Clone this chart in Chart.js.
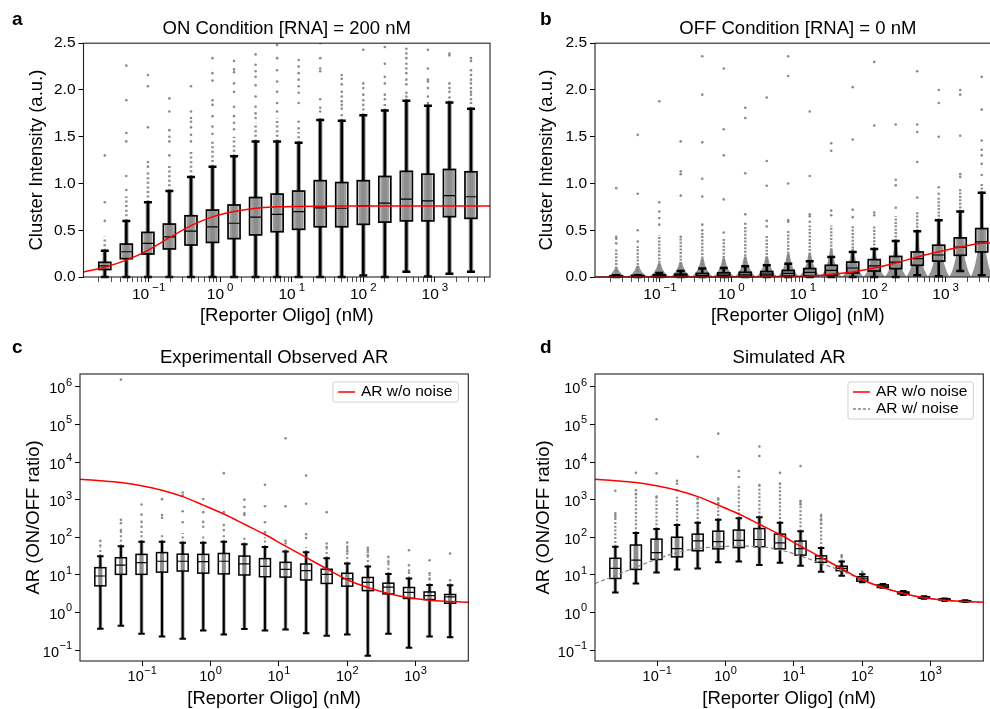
<!DOCTYPE html>
<html>
<head>
<meta charset="utf-8">
<script src="https://cdn.jsdelivr.net/npm/chart.js@4.4.1/dist/chart.umd.min.js"></script>
<style>
  html, body { margin: 0; padding: 0; background: #fff; }
  body { width: 990px; height: 709px; overflow: hidden; position: relative; }
  canvas { position: absolute; }
</style>
</head>
<body>
<canvas id="pa" width="495" height="330" style="left:0;top:0"></canvas>
<canvas id="pb" width="510" height="330" style="left:495px;top:0"></canvas>
<canvas id="pc" width="495" height="381" style="left:0;top:330px"></canvas>
<canvas id="pd" width="495" height="381" style="left:495px;top:330px"></canvas>
<script>
const FONT = '"Liberation Sans", Arial, Helvetica, sans-serif';
Chart.defaults.font.family = FONT;
Chart.defaults.color = '#000';

// reporter oligo concentrations (nM), twofold dilution series
const conc = [0.0244, 0.0488, 0.0977, 0.195, 0.391, 0.781, 1.5625, 3.125, 6.25, 12.5, 25, 50, 100, 200, 400, 800, 1600, 3200];
// x positions where the fitted curves were read
const fitX = [0.0123, 0.0244, 0.0488, 0.0977, 0.195, 0.391, 0.781, 1.5625, 3.125, 6.25, 12.5, 25, 50, 100, 200, 400, 800, 1600, 3200, 5900];

// a: ON condition
const aQ1 = [0.08, 0.196, 0.246, 0.30, 0.342, 0.37, 0.41, 0.45, 0.484, 0.51, 0.537, 0.537, 0.563, 0.587, 0.60, 0.60, 0.645, 0.627];
const aMed = [0.12, 0.27, 0.36, 0.43, 0.49, 0.535, 0.575, 0.64, 0.67, 0.70, 0.74, 0.735, 0.76, 0.79, 0.833, 0.815, 0.87, 0.858];
const aQ3 = [0.157, 0.352, 0.477, 0.566, 0.655, 0.716, 0.77, 0.85, 0.887, 0.919, 1.03, 1.01, 1.03, 1.075, 1.13, 1.10, 1.15, 1.125];
const aLo = [0, 0, 0, 0, 0, 0, 0, 0, 0, 0, 0, 0, 0.015, 0, 0.055, 0.005, 0.035, 0.055];
const aHi = [0.28, 0.6, 0.8, 0.92, 1.07, 1.18, 1.29, 1.45, 1.45, 1.435, 1.68, 1.67, 1.73, 1.78, 1.885, 1.83, 1.865, 1.80];
const aCloud = [0.43, 0.86, 1.12, 1.2, 1.36, 1.46, 1.5, 1.65, 1.7, 1.55, 1.72, 1.75, 1.82, 1.85, 1.92, 1.85, 1.9, 1.88];
const aOut = [
  [1.3, 0.8, 0.6],
  [2.26, 1.89, 1.54, 1.45, 1.08, 0.93],
  [2.16, 2.04, 1.6, 1.23, 1.18],
  [1.91, 1.77, 1.57, 1.5, 1.45, 1.3],
  [2.04, 1.77, 1.7, 1.66, 1.6, 1.52, 1.45],
  [2.34, 2.18, 2.1, 1.89, 1.84, 1.72, 1.61, 1.53],
  [2.31, 2.22, 2.19, 2.07, 1.98, 1.82, 1.72, 1.65, 1.58],
  [2.38, 2.27, 2.2, 2.14, 2.05, 1.93, 1.82, 1.75, 1.7],
  [2.48, 2.34, 2.21, 2.09, 1.98, 1.86, 1.77],
  [2.32, 2.25, 2.18, 2.11, 2.04, 1.97, 1.86, 1.66, 1.59],
  [2.5, 2.34, 2.23, 2.2, 1.9, 1.81, 1.77],
  [2.16, 2.12, 2.06, 1.98, 1.93, 1.88, 1.84, 1.8],
  [2.43, 2.07, 2.02, 1.95, 1.89, 1.84],
  [2.46, 2.28, 2.14, 2.07, 1.95, 1.9],
  [2.44, 2.39, 2.34, 2.28, 2.23, 2.18, 2.11, 2.06, 1.97, 1.93],
  [2.43, 2.23, 2.11, 2.09, 2.02, 1.93, 1.86],
  [2.39, 2.37, 2.07, 2.02, 1.98, 1.92],
  [2.34, 2.31, 2.21, 2.16, 2.11, 2.07, 2.02, 1.98, 1.95, 1.9]
];
const onFit = [0.054, 0.105, 0.18, 0.285, 0.42, 0.55, 0.643, 0.70, 0.736, 0.75, 0.755, 0.757, 0.758, 0.758, 0.758, 0.758, 0.758, 0.758, 0.758, 0.758];

// b: OFF condition
const bQ1 = [0, 0, 0.001, 0.002, 0.004, 0.005, 0.006, 0.008, 0.01, 0.013, 0.02, 0.043, 0.064, 0.089, 0.125, 0.17, 0.232, 0.268];
const bMed = [0.004, 0.006, 0.009, 0.012, 0.016, 0.02, 0.024, 0.03, 0.038, 0.05, 0.07, 0.096, 0.118, 0.16, 0.196, 0.235, 0.32, 0.375];
const bQ3 = [0.012, 0.015, 0.022, 0.03, 0.038, 0.045, 0.05, 0.058, 0.07, 0.09, 0.125, 0.16, 0.186, 0.22, 0.268, 0.34, 0.418, 0.518];
const bLo = [0, 0, 0, 0, 0, 0, 0, 0, 0, 0, 0, 0, 0, 0, 0.02, 0.007, 0.064, 0.018];
const bHi = [0.018, 0.02, 0.043, 0.064, 0.09, 0.095, 0.114, 0.125, 0.143, 0.168, 0.214, 0.268, 0.30, 0.386, 0.49, 0.607, 0.70, 0.90];
const bCloud = [0.3, 0.33, 0.45, 0.43, 0.45, 0.42, 0.55, 0.45, 0.5, 0.55, 0.55, 0.55, 0.55, 0.65, 0.7, 0.85, 0.95, 1.0];
const bBell = [0.1, 0.12, 0.15, 0.16, 0.2, 0.2, 0.22, 0.22, 0.25, 0.25, 0.3, 0.3, 0.3, 0.35, 0.4, 0.45, 0.5, 0.6];
const bOut = [
  [0.95, 0.43, 0.41, 0.36],
  [1.52, 0.89, 0.5, 0.38],
  [1.88, 0.8, 0.7, 0.63, 0.56],
  [1.45, 1.13, 1.1, 0.87, 0.43],
  [2.36, 1.95, 1.44, 1.05, 0.86, 0.56, 0.5, 0.46],
  [2.23, 1.58, 1.3, 0.83, 0.475],
  [1.81, 1.7, 1.11, 0.67, 0.57],
  [1.92, 1.24, 0.975, 0.6, 0.54],
  [2.36, 2.15, 1.0, 0.61, 0.59],
  [1.77, 1.08, 0.67, 0.65, 0.59],
  [1.43, 1.35, 0.71, 0.66],
  [2.03, 1.47, 0.72, 0.64],
  [2.3, 1.62, 0.69, 0.66],
  [1.63, 1.04, 0.98, 0.74],
  [2.2, 1.63, 1.55, 1.23, 0.85],
  [2.0, 1.86, 1.5, 0.96, 0.89],
  [2.0, 1.95, 1.51, 1.1, 1.07],
  [2.14, 1.79, 1.46, 1.36, 1.3, 1.21, 1.09]
];
const offFit = [0, 0, 0, 0, 0, 0, 0, 0.001, 0.002, 0.005, 0.01, 0.03, 0.054, 0.096, 0.15, 0.214, 0.27, 0.32, 0.36, 0.368];

// c: experimentally observed AR
const cQ1 = [5.1, 10.3, 10.3, 11.8, 12.6, 11.1, 10.6, 9.9, 8.9, 8.7, 7.3, 5.9, 5.0, 3.8, 3.1, 2.35, 2.2, 1.76];
const cMed = [9.3, 18.2, 21, 23, 23, 22.5, 23, 19.6, 16.7, 14, 12.9, 10.3, 7.8, 6.3, 4.7, 3.4, 2.8, 2.6];
const cQ3 = [15.5, 28.5, 35, 39, 35.5, 35, 37, 31.5, 27, 21.5, 19.4, 14.1, 11, 8.5, 6.0, 4.6, 3.5, 3.0];
const cLo = [0.37, 0.44, 0.27, 0.23, 0.2, 0.33, 0.26, 0.36, 0.33, 0.35, 0.28, 0.24, 0.26, 0.07, 0.27, 0.115, 0.23, 0.22];
const cHi = [31, 58, 76, 76, 71, 71, 76, 65, 55, 42, 40, 27.5, 20, 16.7, 10.5, 8, 5.4, 5.3];
const cCloud = [55, 150, 150, 120, 130, 120, 130, 110, 100, 50, 55, 60, 60, 45, 25, 13, 10, 7];
const cOut = [
  [80, 60],
  [1.56e6, 290, 235, 155],
  [740, 400, 256, 190],
  [1030, 390, 330],
  [1550, 1300, 490, 250],
  [1040, 465, 256, 190],
  [5070, 465, 210, 155],
  [1000, 640, 430, 390],
  [2480, 670, 250, 135],
  [43000, 670, 80, 68],
  [4360, 780, 120, 95],
  [465, 68, 55],
  [72, 55, 42],
  [52, 45, 33],
  [30, 22],
  [45, 18, 13],
  [24.5, 11, 8],
  [37, 7.2]
];
const arFit = [3500, 3200, 2850, 2350, 1780, 1200, 716, 415, 222, 118, 58, 29, 14.5, 7.4, 4.6, 3.2, 2.45, 2.1, 1.95, 1.85];

// d: simulated AR
const dQ1 = [8, 13.9, 25.6, 30, 43.6, 49, 53, 56, 49, 33.5, 21.5, 12.9, 6.8, 4.6, 3.1, 2.4, 2.1, 1.93];
const dMed = [14.8, 24.7, 39, 50, 80, 76, 83, 87, 71, 50, 27, 14.8, 7.8, 5.0, 3.3, 2.5, 2.2, 1.99];
const dQ3 = [27.5, 62, 89, 100, 121, 145, 155, 170, 121, 79, 32, 17, 8.9, 5.4, 3.5, 2.6, 2.3, 2.05];
const dLo = [3.4, 5.9, 11.6, 13.9, 14.8, 21.5, 22.5, 18.2, 21, 17.5, 12, 9.5, 6.3, 4.5, 2.9, 2.3, 2.0, 1.88];
const dHi = [56, 130, 165, 210, 243, 290, 318, 340, 243, 145, 52, 22.5, 10.3, 5.7, 3.7, 2.7, 2.35, 2.1];
const dCloud = [450, 1500, 1200, 1200, 1100, 1100, 2600, 2450, 2700, 1000, 390, 30, 12, 6, 3.8, 2.75, 2.4, 2.15];
const dOut = [
  [1730, 430, 350],
  [5160, 1780, 1400],
  [138000, 5000, 1200],
  [3160, 2650, 1780],
  [13800, 1070, 800],
  [57000, 1070, 800],
  [5800, 4000],
  [26000, 14500, 2450],
  [5160, 2700],
  [7800, 900, 750],
  [390, 300, 230],
  [33, 30],
  [12],
  [], [], [], [], []
];
const noiseFit = [5.9, 9.6, 16, 26, 39, 50, 56, 58, 56, 46, 32, 20, 12.8, 7.4, 4.6, 3.2, 2.45, 2.1, 1.95, 1.85];

const X_MIN = 0.0123, X_MAX = 5900;

const PANELS = {
  pa: {letter: 'a', lx: 12, ly: 25,
       box: {q1: aQ1, med: aMed, q3: aQ3, lo: aLo, hi: aHi, cloud: aCloud},
       st: {bw: 12, capW: 8, colW: 4.5, dotW: 2.6, dash: [2, 2.6], innerW: 9, wl: 2.5, bl: 1.7, ml: 1.2},
       xLab: {size: 15.5, exp: 11.5, gap: 3, base: 22, rise: 8}},
  pb: {letter: 'b', lx: 45, ly: 25,
       box: {q1: bQ1, med: bMed, q3: bQ3, lo: bLo, hi: bHi, cloud: bCloud, bell: bBell},
       st: {bw: 12, capW: 8, colW: 4, dotW: 2.4, dash: [2, 1.4], innerW: 9, bellW: 22, wl: 2.5, bl: 1.7, ml: 1.2},
       xLab: {size: 15.5, exp: 11.5, gap: 3, base: 22, rise: 8}},
  pc: {letter: 'c', lx: 12, ly: 23,
       box: {q1: cQ1, med: cMed, q3: cQ3, lo: cLo, hi: cHi, cloud: cCloud},
       st: {bw: 11, capW: 6.5, colW: 3.6, dotW: 2.2, dash: [2, 2.4], innerW: 4, wl: 2, bl: 1.5, ml: 1.2},
       xLab: {size: 14.5, exp: 11, gap: 0.5, base: 20, rise: 7.5},
       yLab: {size: 14.5, exp: 11, gap: 0.5, drop: 6.5, rise: 7.5},
       legend: [{label: 'AR w/o noise', color: '#ff0000'}]},
  pd: {letter: 'd', lx: 45, ly: 23,
       box: {q1: dQ1, med: dMed, q3: dQ3, lo: dLo, hi: dHi, cloud: dCloud},
       st: {bw: 11, capW: 6.5, colW: 3.6, dotW: 2.2, dash: [2, 1.8], innerW: 5, wl: 2, bl: 1.5, ml: 1.2},
       xLab: {size: 14.5, exp: 11, gap: 0.5, base: 20, rise: 7.5},
       yLab: {size: 14.5, exp: 11, gap: 0.5, drop: 6.5, rise: 7.5},
       legend: [{label: 'AR w/o noise', color: '#ff0000'}, {label: 'AR w/ noise', color: '#808080', dash: [3, 2]}]}
};

// exponent of a power of ten, or null for minor ticks
function powExp(v) {
  const e = Math.round(Math.log10(v));
  if (Math.abs(v / Math.pow(10, e) - 1) > 1e-6) return null;
  return e;
}
function logTicks(scale, withMinor) {
  const out = [];
  for (let e = Math.floor(Math.log10(scale.min)); e <= Math.ceil(Math.log10(scale.max)); e++) {
    for (let m = 1; m <= (withMinor ? 9 : 1); m++) {
      const v = m * Math.pow(10, e);
      if (v >= scale.min && v <= scale.max) out.push({value: v, major: m === 1});
    }
  }
  scale.ticks = out;
}
function outlierPoints(out) {
  const pts = [];
  out.forEach((vals, i) => vals.forEach(v => pts.push({x: conc[i], y: v})));
  return pts;
}
function curve(ys) {
  return fitX.map((x, i) => ({x: x, y: ys[i]}));
}

// "10" with a raised exponent, like matplotlib's log tick labels
function drawPow(ctx, e, x, baseline, f, align) {
  const sup = String(e).replace('-', '\u2212');
  ctx.font = f.size + 'px ' + FONT;
  const w1 = ctx.measureText('10').width;
  ctx.font = f.exp + 'px ' + FONT;
  const w2 = ctx.measureText(sup).width;
  const total = w1 + f.gap + w2;
  const left = align === 'right' ? x - total : x - total / 2;
  ctx.textAlign = 'left';
  ctx.textBaseline = 'alphabetic';
  ctx.font = f.size + 'px ' + FONT;
  ctx.fillText('10', left, baseline);
  ctx.font = f.exp + 'px ' + FONT;
  ctx.fillText(sup, left + w1 + f.gap, baseline - f.rise);
}

// grey point clouds under the boxes, then the boxes themselves after the outlier dataset
const boxPlugin = {
  id: 'boxes',
  beforeDatasetsDraw(chart) {
    const p = PANELS[chart.canvas.id];
    const {ctx, chartArea: a} = chart;
    const x = chart.scales.x, y = chart.scales.y;
    const b = p.box, s = p.st;
    ctx.save();
    ctx.beginPath();
    ctx.rect(a.left, a.top, a.width, a.height);
    ctx.clip();
    conc.forEach((c, i) => {
      const px = x.getPixelForValue(c);
      const yLo = b.lo[i] > 0 ? y.getPixelForValue(b.lo[i]) : a.bottom;
      const yHi = y.getPixelForValue(b.hi[i]);
      if (b.bell) {
        const yb = y.getPixelForValue(b.bell[i]);
        ctx.fillStyle = 'rgba(128,128,128,0.85)';
        ctx.beginPath();
        ctx.moveTo(px - s.bellW / 2, a.bottom);
        ctx.quadraticCurveTo(px - s.bellW / 6, a.bottom - (a.bottom - yb) * 0.25, px - 1.2, yb);
        ctx.lineTo(px + 1.2, yb);
        ctx.quadraticCurveTo(px + s.bellW / 6, a.bottom - (a.bottom - yb) * 0.25, px + s.bellW / 2, a.bottom);
        ctx.closePath();
        ctx.fill();
      }
      // dense points along the whisker
      ctx.fillStyle = 'rgba(128,128,128,0.8)';
      ctx.fillRect(px - s.colW / 2, yHi, s.colW, yLo - yHi);
      // thinning points above the whisker
      const yc = y.getPixelForValue(b.cloud[i]);
      if (yc < yHi) {
        ctx.strokeStyle = 'rgba(128,128,128,0.9)';
        ctx.lineWidth = s.dotW;
        ctx.setLineDash(s.dash);
        ctx.beginPath();
        ctx.moveTo(px, yHi);
        ctx.lineTo(px, yc);
        ctx.stroke();
        ctx.setLineDash([]);
      }
      const y1 = y.getPixelForValue(b.q1[i]), y3 = y.getPixelForValue(b.q3[i]);
      ctx.fillStyle = 'rgba(140,140,140,0.85)';
      ctx.fillRect(px - s.innerW / 2, y3, s.innerW, y1 - y3);
    });
    ctx.restore();
  },
  afterDatasetDraw(chart, args) {
    if (args.index !== 0) return;
    const p = PANELS[chart.canvas.id];
    const {ctx, chartArea: a} = chart;
    const x = chart.scales.x, y = chart.scales.y;
    const b = p.box, s = p.st;
    const py = v => (v > 0 || y.type !== 'logarithmic') ? y.getPixelForValue(v) : a.bottom;
    ctx.save();
    ctx.beginPath();
    ctx.rect(a.left - 3, a.top - 3, a.width + 6, a.height + 6);
    ctx.clip();
    ctx.strokeStyle = '#000';
    conc.forEach((c, i) => {
      const px = x.getPixelForValue(c);
      const yLo = py(b.lo[i]), yHi = py(b.hi[i]);
      const y1 = py(b.q1[i]), y3 = py(b.q3[i]), ym = py(b.med[i]);
      ctx.lineWidth = s.wl;
      ctx.beginPath();
      ctx.moveTo(px, yLo); ctx.lineTo(px, y1);
      ctx.moveTo(px, y3); ctx.lineTo(px, yHi);
      ctx.moveTo(px - s.capW / 2, yLo); ctx.lineTo(px + s.capW / 2, yLo);
      ctx.moveTo(px - s.capW / 2, yHi); ctx.lineTo(px + s.capW / 2, yHi);
      ctx.stroke();
      ctx.lineWidth = s.bl;
      ctx.strokeRect(px - s.bw / 2, y3, s.bw, y1 - y3);
      ctx.lineWidth = s.ml;
      ctx.beginPath();
      ctx.moveTo(px - s.bw / 2, ym); ctx.lineTo(px + s.bw / 2, ym);
      ctx.stroke();
    });
    ctx.restore();
  }
};

// frame, log tick labels, panel letter and legend
const decorPlugin = {
  id: 'decor',
  afterDraw(chart) {
    const p = PANELS[chart.canvas.id];
    const {ctx, chartArea: a} = chart;
    const x = chart.scales.x, y = chart.scales.y;
    ctx.save();
    ctx.strokeStyle = '#222';
    ctx.lineWidth = 1.1;
    ctx.strokeRect(a.left, a.top, a.width, a.height);

    ctx.fillStyle = '#000';
    x.ticks.forEach(t => {
      const e = powExp(t.value);
      if (e === null) return;
      drawPow(ctx, e, x.getPixelForValue(t.value), a.bottom + p.xLab.base, p.xLab, 'center');
    });
    if (p.yLab) {
      y.ticks.forEach(t => {
        const e = powExp(t.value);
        if (e === null) return;
        drawPow(ctx, e, a.left - 8, y.getPixelForValue(t.value) + p.yLab.drop, p.yLab, 'right');
      });
    }

    ctx.font = 'bold 19px ' + FONT;
    ctx.textAlign = 'left';
    ctx.textBaseline = 'alphabetic';
    ctx.fillText(p.letter, p.lx, p.ly);

    if (p.legend) {
      ctx.font = '15.5px ' + FONT;
      const tw = Math.max(...p.legend.map(l => ctx.measureText(l.label).width));
      const w = tw + 34, h = 3 + 17 * p.legend.length;
      const left = a.right - 10 - w, top = a.top + 8;
      ctx.fillStyle = 'rgba(255,255,255,0.8)';
      ctx.strokeStyle = '#d0d0d0';
      ctx.lineWidth = 1;
      ctx.beginPath();
      ctx.roundRect(left, top, w, h, 2);
      ctx.fill();
      ctx.stroke();
      p.legend.forEach((l, i) => {
        const cy = top + 10 + 17 * i;
        ctx.strokeStyle = l.color;
        ctx.lineWidth = 1.5;
        ctx.setLineDash(l.dash || []);
        ctx.beginPath();
        ctx.moveTo(left + 5, cy); ctx.lineTo(left + 22, cy);
        ctx.stroke();
        ctx.setLineDash([]);
        ctx.fillStyle = '#000';
        ctx.textBaseline = 'middle';
        ctx.fillText(l.label, left + 28, cy);
      });
    }
    ctx.restore();
  }
};

function makePanel(id, o) {
  const datasets = [{
    type: 'scatter',
    data: outlierPoints(o.out),
    pointRadius: 1.3,
    pointBackgroundColor: '#8a8a8a',
    pointBorderWidth: 0,
    order: 3
  }];
  o.lines.forEach(l => datasets.push({
    type: 'line',
    data: curve(l.y),
    borderColor: l.color,
    borderWidth: l.width,
    borderDash: l.dash || [],
    pointRadius: 0,
    cubicInterpolationMode: 'monotone',
    fill: false,
    clip: 3,
    order: l.order
  }));
  const yScale = {
    afterFit: s => { s.width = o.yW; },
    grid: {display: true, drawOnChartArea: false, drawTicks: true, tickLength: 5, tickColor: '#000'},
    border: {display: false},
    title: {display: true, text: o.yTitle, font: {size: 18.5}, padding: {top: o.yTitlePad, bottom: 0}}
  };
  if (o.yLog) {
    Object.assign(yScale, {
      type: 'logarithmic', min: 0.051, max: 2.2e6,
      afterBuildTicks: s => logTicks(s, false),
      ticks: {display: false}
    });
  } else {
    Object.assign(yScale, {
      type: 'linear', min: 0, max: 2.5,
      ticks: {stepSize: 0.5, padding: 3, font: {size: 15.5}, callback: v => v.toFixed(1)}
    });
  }
  return new Chart(document.getElementById(id), {
    type: 'scatter',
    data: {datasets: datasets},
    options: {
      responsive: false,
      animation: false,
      events: [],
      layout: {padding: {left: 0, right: o.padR, top: 0, bottom: 0}},
      plugins: {
        legend: {display: false},
        tooltip: {enabled: false},
        title: {display: true, text: o.title, fullSize: false, color: '#000',
                font: {size: 18.5, weight: 'normal'}, padding: {top: o.titleTop, bottom: o.titleBottom}}
      },
      scales: {
        x: {
          type: 'logarithmic', min: X_MIN, max: X_MAX,
          afterBuildTicks: s => logTicks(s, o.minorX),
          afterFit: s => { s.height = o.xH; },
          grid: {display: true, drawOnChartArea: false, drawTicks: true, tickLength: 5, tickColor: '#000',
                 tickWidth: c => (c.tick && c.tick.major ? 1 : 0.7)},
          border: {display: false},
          ticks: {display: false},
          title: {display: true, text: '[Reporter Oligo] (nM)', font: {size: 18.5}, padding: {top: 0, bottom: o.xTitlePad}}
        },
        y: yScale
      }
    },
    plugins: [boxPlugin, decorPlugin]
  });
}

makePanel('pa', {
  title: 'ON Condition [RNA] = 200 nM', yTitle: 'Cluster Intensity (a.u.)', yLog: false, minorX: true,
  out: aOut, lines: [{y: onFit, color: '#ff0000', width: 1.5, order: 1}],
  yW: 83.5, padR: 5, xH: 53, titleTop: 18, titleBottom: 3, yTitlePad: 25.6, xTitlePad: 2.9
});
makePanel('pb', {
  title: 'OFF Condition [RNA] = 0 nM', yTitle: 'Cluster Intensity (a.u.)', yLog: false, minorX: true,
  out: bOut, lines: [{y: offFit, color: '#ff0000', width: 1.5, order: 1}],
  yW: 100, padR: 4.3, xH: 53, titleTop: 18, titleBottom: 3, yTitlePad: 40.9, xTitlePad: 2.9
});
makePanel('pc', {
  title: 'Experimentall Observed AR', yTitle: 'AR (ON/OFF ratio)', yLog: true, minorX: false,
  out: cOut, lines: [{y: arFit, color: '#ff0000', width: 1.5, order: 1}],
  yW: 80, padR: 26.7, xH: 50, titleTop: 16.8, titleBottom: 5, yTitlePad: 22.9, xTitlePad: 0.9
});
makePanel('pd', {
  title: 'Simulated AR', yTitle: 'AR (ON/OFF ratio)', yLog: true, minorX: false,
  out: dOut, lines: [{y: arFit, color: '#ff0000', width: 1.5, order: 1},
                     {y: noiseFit, color: '#808080', width: 1.2, dash: [4, 2.5], order: 2}],
  yW: 100, padR: 6.7, xH: 50, titleTop: 16.8, titleBottom: 5, yTitlePad: 37.4, xTitlePad: 0.9
});
</script>
</body>
</html>
